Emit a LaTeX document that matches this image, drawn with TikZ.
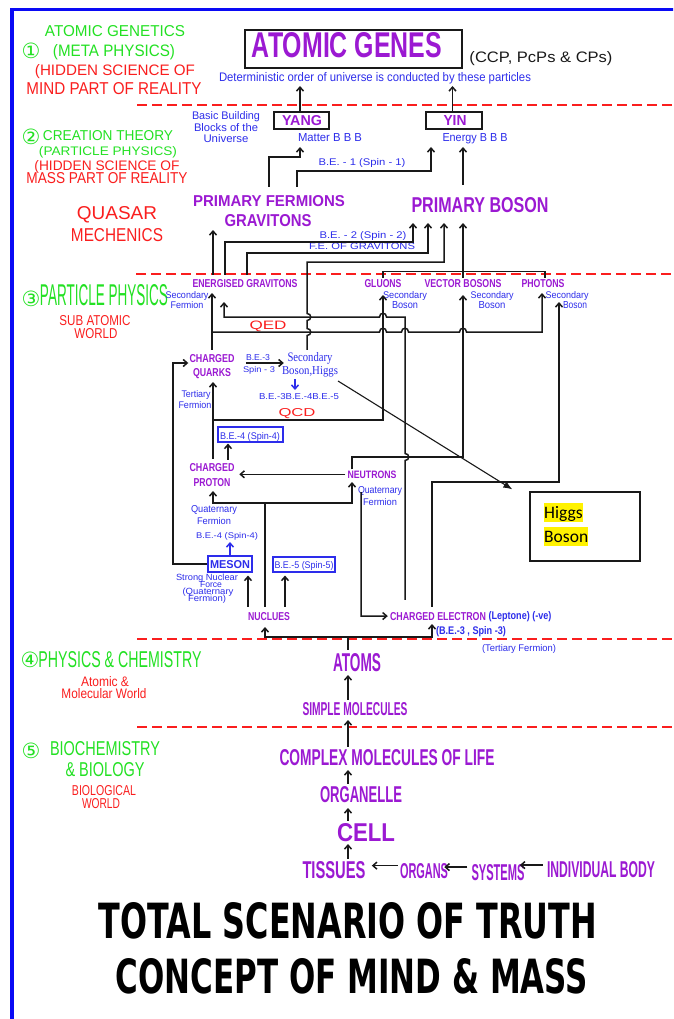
\documentclass[tikz,border=0pt]{standalone}
\usepackage{fontspec}
\setmainfont{Liberation Sans}
\newfontfamily\serifb{Liberation Serif}
\newfontfamily\calib{Carlito}
\newfontfamily\djv{DejaVu Sans}
\usepackage{graphicx}
\usetikzlibrary{arrows.meta}
\newcommand\fit[3]{\resizebox{#1pt}{#2pt}{#3}}
\definecolor{pur}{RGB}{155,25,210}
\definecolor{blu}{RGB}{45,45,235}
\definecolor{grn}{RGB}{35,225,35}
\definecolor{rd}{RGB}{250,30,30}
\definecolor{lnc}{RGB}{25,25,25}
\definecolor{frame}{RGB}{10,10,245}
\begin{document}
\begin{tikzpicture}[x=1pt,y=-1pt,
  txt/.style={inner sep=0pt, anchor=base},
  ptxt/.style={txt, text=pur, font=\bfseries},
  btxt/.style={txt, text=blu},
  gtxt/.style={txt, text=grn},
  rtxt/.style={txt, text=rd},
  circ/.style={text=grn, font=\djv\fontsize{21}{21}\selectfont, inner sep=0pt},
  ln/.style={draw=lnc, line width=1.5pt},
  arr/.style={ln, -{Straight Barb[length=4pt,width=7pt]}},
  barr/.style={draw=blu, line width=1.5pt, -{Straight Barb[length=4pt,width=7pt]}},
  rdash/.style={draw=rd, line width=2pt, dash pattern=on 10pt off 5pt},
  bbox/.style={draw=blu, line width=1.1pt, inner sep=0pt},
  kbox/.style={draw=lnc, line width=1.4pt, inner sep=0pt},
]
\useasboundingbox (0,0) rectangle (673,1019);
\clip (0,0) rectangle (673,1019);
\fill[white] (0,0) rectangle (673,1019);
% frame
\draw[frame, line width=3.5pt] (12,1040) -- (12,9.5) -- (690,9.5);
% red dashed separators
\draw[rdash] (137,105) -- (673,105);
\draw[rdash] (136,274) -- (673,274);
\draw[rdash] (137,639) -- (673,639);
\draw[rdash] (137,727) -- (673,727);

% ---------- left column ----------
\node[gtxt] (l1) at (115,37) {\fit{140}{11}{ATOMIC GENETICS}};
\node[circ] (c1) at (31,51) {①};
\node[gtxt] (l2) at (114,57) {\fit{122}{12}{(META PHYSICS)}};
\node[rtxt] (l3) at (115,76) {\fit{160}{11}{(HIDDEN SCIENCE OF}};
\node[rtxt] (l4) at (114,95) {\fit{175}{12}{MIND PART OF REALITY}};
\node[circ] (c2) at (31,137) {②};
\node[gtxt] (l5) at (108,140.5) {\fit{130}{10}{CREATION THEORY}};
\node[gtxt] (l6) at (108,155.5) {\fit{138}{9}{(PARTICLE PHYSICS)}};
\node[rtxt] (l7) at (107,170) {\fit{145}{10}{(HIDDEN SCIENCE OF}};
\node[rtxt] (l8) at (107,184) {\fit{161}{11}{MASS PART OF REALITY}};
\node[rtxt] (l9) at (117,219) {\fit{80}{13}{QUASAR}};
\node[rtxt] (l10) at (117,241) {\fit{92}{13}{MECHENICS}};
\node[circ] (c3) at (31,299) {③};
\node[gtxt] (l11) at (104,305) {\fit{128}{21}{PARTICLE PHYSICS}};
\node[rtxt] (l12) at (95,325) {\fit{71}{10}{SUB ATOMIC}};
\node[rtxt] (l13) at (96,338) {\fit{43}{10}{WORLD}};
\node[circ] (c4) at (30,660) {④};
\node[gtxt] (l14) at (120,667) {\fit{163}{16}{PHYSICS \& CHEMISTRY}};
\node[rtxt] (l15) at (105,686) {\fit{48}{10}{Atomic \&}};
\node[rtxt] (l16) at (104,698) {\fit{85}{10}{Molecular World}};
\node[circ] (c5) at (31,751) {⑤};
\node[gtxt] (l17) at (105,755) {\fit{110}{14}{BIOCHEMISTRY}};
\node[gtxt] (l18) at (105,776) {\fit{79}{14}{\& BIOLOGY}};
\node[rtxt] (l19) at (104,795) {\fit{64}{10}{BIOLOGICAL}};
\node[rtxt] (l20) at (101,808) {\fit{38}{10}{WORLD}};

% ---------- top ----------
\node[kbox, line width=1.5pt, minimum width=217pt, minimum height=38pt] (agbox) at (353.5,49) {};
\node[ptxt] (ag) at (347,58) {\fit{190}{25}{ATOMIC GENES}};
\node[txt, text=lnc] (ccp) at (541,63) {\fit{143}{11}{(CCP, PcPs \& CPs)}};
\node[btxt] (det) at (375,82) {\fit{312}{9}{Deterministic order of universe is conducted by these particles}};
\node[kbox, minimum width=55pt, minimum height=17pt] (yang) at (301.5,120.5) {};
\node[ptxt] (yangt) at (302,126) {\fit{40}{10}{YANG}};
\node[kbox, minimum width=56pt, minimum height=17pt] (yin) at (454,120.5) {};
\node[ptxt] (yint) at (455,126) {\fit{23}{10}{YIN}};
\node[btxt] (matter) at (330,142) {\fit{64}{8}{Matter B B B}};
\node[btxt] (energy) at (475,142) {\fit{65}{8}{Energy B B B}};
\node[btxt] (bb1) at (226,120) {\fit{68}{8}{Basic Building}};
\node[btxt] (bb2) at (226,132) {\fit{64}{8}{Blocks of the}};
\node[btxt] (bb3) at (226,143) {\fit{45}{8}{Universe}};
\node[btxt] (be1) at (362,166) {\fit{87}{7}{B.E. - 1 (Spin - 1)}};
\node[ptxt] (pf) at (269,207) {\fit{152}{11}{PRIMARY FERMIONS}};
\node[ptxt] (pg) at (268,226) {\fit{87}{12}{GRAVITONS}};
\node[ptxt] (pb) at (480,212) {\fit{137}{15}{PRIMARY BOSON}};
\node[btxt] (be2) at (363,238) {\fit{87}{7}{B.E. - 2 (Spin - 2)}};
\node[btxt] (fe) at (362,249) {\fit{106}{6.5}{F.E. OF GRAVITONS}};

% ---------- particle physics ----------
\node[ptxt] (eg) at (245,287) {\fit{105}{8}{ENERGISED GRAVITONS}};
\node[btxt] (egs1) at (187,298) {\fit{43}{7}{Secondary}};
\node[btxt] (egs2) at (187,308) {\fit{33}{7}{Fermion}};
\node[ptxt] (gl) at (383,287) {\fit{37}{8}{GLUONS}};
\node[btxt] (gls1) at (405,298) {\fit{44}{7}{Secondary}};
\node[btxt] (gls2) at (405,308) {\fit{26}{7}{Boson}};
\node[ptxt] (vb) at (463,287) {\fit{77}{8}{VECTOR BOSONS}};
\node[btxt] (vbs1) at (492,298) {\fit{43}{7}{Secondary}};
\node[btxt] (vbs2) at (492,308) {\fit{27}{7}{Boson}};
\node[ptxt] (ph) at (543,287) {\fit{43}{8}{PHOTONS}};
\node[btxt] (phs1) at (567,298) {\fit{43}{7}{Secondary}};
\node[btxt] (phs2) at (575,308) {\fit{24}{7}{Boson}};
\node[rtxt] (qed) at (268,329) {\fit{37}{8.5}{QED}};
\node[ptxt] (cq1) at (212,362) {\fit{45}{8}{CHARGED}};
\node[ptxt] (cq2) at (212,376) {\fit{38}{8}{QUARKS}};
\node[btxt] (be3) at (258,360) {\fit{24}{6}{B.E.-3}};
\node[btxt] (sp3) at (259,372) {\fit{32}{6}{Spin - 3}};
\node[btxt, font=\serifb] (sbh1) at (310,361) {\fit{45}{9}{Secondary}};
\node[btxt, font=\serifb] (sbh2) at (310,374) {\fit{56}{8}{Boson,Higgs}};
\node[btxt] (bex) at (299,399) {\fit{80}{6}{B.E.-3B.E.-4B.E.-5}};
\node[rtxt] (qcd) at (297,416) {\fit{37}{8}{QCD}};
\node[btxt] (tf1) at (196,397) {\fit{29}{7}{Tertiary}};
\node[btxt] (tf2) at (195,408) {\fit{33}{7}{Fermion}};
\node[bbox, minimum width=65pt, minimum height=15pt] (be4box) at (250.5,434.5) {};
\node[btxt] (be4t) at (250,439) {\fit{60}{7}{B.E.-4 (Spin-4)}};
\node[ptxt] (cp1) at (212,471) {\fit{45}{8}{CHARGED}};
\node[ptxt] (cp2) at (212,486) {\fit{37}{8}{PROTON}};
\node[ptxt] (nt) at (372,478) {\fit{49}{7.5}{NEUTRONS}};
\node[btxt] (nq1) at (380,493) {\fit{44}{7}{Quaternary}};
\node[btxt] (nq2) at (380,505) {\fit{34}{7}{Fermion}};
\node[btxt] (pq1) at (214,512) {\fit{46}{7}{Quaternary}};
\node[btxt] (pq2) at (214,524) {\fit{34}{7}{Fermion}};
\node[btxt] (be4s) at (227,538) {\fit{62}{6}{B.E.-4 (Spin-4)}};
\node[bbox, minimum width=44pt, minimum height=16pt] (meson) at (230,564) {};
\node[btxt, font=\bfseries] (mesont) at (230,568) {\fit{40}{8}{MESON}};
\node[bbox, minimum width=62pt, minimum height=15pt] (be5) at (304,564.5) {};
\node[btxt] (be5t) at (304,568) {\fit{59}{7}{B.E.-5 (Spin-5)}};
\node[btxt] (sn1) at (207,580) {\fit{62}{6.5}{Strong Nuclear}};
\node[btxt] (sn2) at (211,587) {\fit{22}{6}{Force}};
\node[btxt] (sn3) at (208,594) {\fit{51}{6.5}{(Quaternary}};
\node[btxt] (sn4) at (207,601) {\fit{38}{6.5}{Fermion)}};
\node[ptxt] (nu) at (269,620) {\fit{42}{8}{NUCLUES}};
\node[ptxt] (ce) at (438,620) {\fit{96}{8}{CHARGED ELECTRON}};
\node[btxt, font=\bfseries] (lep) at (520,619) {\fit{63}{8}{(Leptone) (-ve)}};
\node[btxt, font=\bfseries] (bes3) at (471,634) {\fit{70}{8}{(B.E.-3 , Spin -3)}};
\node[btxt] (tfe) at (519,651) {\fit{74}{7}{(Tertiary Fermion)}};
% Higgs box
\node[kbox, line width=1.3pt, minimum width=110pt, minimum height=69pt] (higgsbox) at (585,526.5) {};
\node[fill=yellow, inner sep=0pt, text height=15pt, text depth=4pt, anchor=base west, font=\calib\fontsize{17.5}{17.5}\selectfont] (hg1) at (544,518) {Higgs};
\node[fill=yellow, inner sep=0pt, text height=15pt, text depth=4pt, anchor=base west, font=\calib\fontsize{17.5}{17.5}\selectfont] (hg2) at (544,542) {Boson};

% ---------- lower ----------
\node[ptxt] (at) at (357,671) {\fit{48}{18}{ATOMS}};
\node[ptxt] (sm) at (355,715) {\fit{105}{13}{SIMPLE MOLECULES}};
\node[ptxt] (cm) at (387,765) {\fit{215}{16}{COMPLEX MOLECULES OF LIFE}};
\node[ptxt] (or) at (361,802) {\fit{82}{16}{ORGANELLE}};
\node[ptxt] (cell) at (366,841) {\fit{58}{18}{CELL}};
\node[ptxt] (ti) at (334,878) {\fit{63}{17}{TISSUES}};
\node[ptxt] (og) at (424,878) {\fit{48}{15}{ORGANS}};
\node[ptxt] (sy) at (498,880) {\fit{53}{16}{SYSTEMS}};
\node[ptxt] (ib) at (601,877) {\fit{108}{16}{INDIVIDUAL BODY}};
\node[txt, font=\djv\bfseries] (title1) at (348,938) {\fit{498}{36}{TOTAL SCENARIO OF TRUTH}};
\node[txt, font=\djv\bfseries] (title2) at (352,993) {\fit{472}{35}{CONCEPT OF MIND \& MASS}};

% ---------- connectors ----------
\draw[arr] ([xshift=-1.5pt]yang.north) -- ([xshift=-75pt,yshift=-4pt]det.base);
\draw[arr] ([xshift=-1.5pt]yin.north) -- ([xshift=77.5pt,yshift=-4pt]det.base);
\draw[arr] ([yshift=9pt]pf.north) -- (269,157) -- (300,157) -- ([xshift=-30pt,yshift=-5pt]matter.base);
\draw[arr] ([xshift=28pt,yshift=9pt]pf.north) -- (297,171) -- (431,171) -- ([xshift=-44pt,yshift=-5pt]energy.base);
\draw[arr] ([xshift=-17pt,yshift=12pt]pb.north) -- ([xshift=-12pt,yshift=-5pt]energy.base);
\draw[arr] ([xshift=-32pt,yshift=4pt]eg.north) -- ([xshift=-55pt,yshift=-4pt]pg.base);
\draw[arr] ([xshift=-20pt,yshift=4pt]eg.north) -- (225,242) -- (413,242) -- ([xshift=-67pt,yshift=-11pt]pb.base);
\draw[arr] ([xshift=2pt,yshift=4pt]eg.north) -- (247,253) -- (428,253) -- ([xshift=-52pt,yshift=-11pt]pb.base);
\draw[arr] ([xshift=-3pt,yshift=2pt]sbh1.north) -- (307,335.5) .. controls (312,335.5) and (312,328.5) .. (307,328.5)
  -- (307,320.5) .. controls (312,320.5) and (312,313.5) .. (307,313.5) -- (307,262) -- (444,262)
  -- ([xshift=-36pt,yshift=-11pt]pb.base);
% boson bus
\draw[ln] ([yshift=1pt]gl.north) -- (383,271.5) -- (545,271.5) -- ([xshift=2pt,yshift=1pt]ph.north);
\draw[arr] ([yshift=1pt]vb.north) -- ([xshift=-17pt,yshift=-11pt]pb.base);
% quarks to energised gravitons
\draw[arr] ([yshift=4pt]cq1.north) -- ([xshift=-33pt,yshift=-6pt]eg.base);
% QED lower line to photons
\draw[arr] (212,332) -- (379.5,332) .. controls (379.5,327) and (386.5,327) .. (386.5,332)
  -- (401.5,332) .. controls (401.5,327) and (408.5,327) .. (408.5,332)
  -- (459.5,332) .. controls (459.5,327) and (466.5,327) .. (466.5,332)
  -- (542,332) -- ([xshift=-1pt,yshift=-6pt]ph.base);
% electron to energised gravitons (QED upper)
\draw[arr] ([xshift=-33pt,yshift=12pt]ce.north) -- (405,460.5) .. controls (410,460.5) and (410,453.5) .. (405,453.5)
  -- (405,317) -- (386.5,317) .. controls (386.5,312) and (379.5,312) .. (379.5,317)
  -- (224,317) -- ([xshift=-21pt,yshift=-15pt]eg.base);
% proton to quarks, QCD to gluons
\draw[arr] ([xshift=1pt,yshift=4pt]cp1.north) -- ([xshift=1pt,yshift=-6pt]cq2.base);
\draw[arr] (213,420) -- (383,420) -- ([yshift=-8pt]gl.base);
% meson to quarks
\draw[arr] (meson.west) -- (173,564) -- (173,363) -- ([xshift=-1pt,yshift=-1pt]cq1.base west);
\draw[arr] ([yshift=-3pt]be3.base west) -- ++(38,0);
\draw[barr] ([xshift=-15pt,yshift=-5pt]sbh2.base) -- ++(0,11);
\draw[-{Latex[length=9pt,width=7pt]}, draw=lnc, line width=1.1pt] ([xshift=28pt,yshift=-7pt]sbh2.base) -- ([xshift=-17pt,yshift=2pt]higgsbox.north west);
\draw[arr] ([xshift=16pt,yshift=3pt]cp1.north) -- ([xshift=-22.5pt,yshift=-1pt]be4box.south);
\draw[arr] ([xshift=-2pt]nt.west) -- ++(-106,0);
% nuclues bus
\draw[ln] ([xshift=-4pt,yshift=5pt]nu.north) -- (265,503);
\draw[arr] (265,503) -- (213,503) -- ([xshift=1pt,yshift=-5pt]cp2.base);
\draw[arr] (265,503) -- (352,503) -- ([xshift=-20pt,yshift=-4pt]nt.base);
\draw[arr] ([xshift=-11pt,yshift=-14pt]nt.base) -- (361,616) -- ([xshift=-2pt]ce.west);
\draw[arr] ([xshift=-21pt,yshift=5pt]nu.north) -- ([xshift=18pt,yshift=-3pt]meson.south);
\draw[arr] ([xshift=16pt,yshift=5pt]nu.north) -- ([xshift=-19pt,yshift=-3pt]be5.south);
\draw[barr] (meson.north) -- ([xshift=3pt,yshift=-4pt]be4s.base);
% neutrons to vector bosons
\draw[arr] ([xshift=-20pt,yshift=1pt]nt.north) -- (352,457) -- (463,457) -- ([yshift=-8pt]vb.base);
% electron to photons
\draw[arr] ([xshift=-6pt,yshift=5pt]ce.north) -- (432,482) -- (559,482) -- ([xshift=-8pt,yshift=-4pt]phs1.base);
% atoms bus
\draw[ln] ([xshift=-9pt,yshift=3pt]at.north) -- (348,637);
\draw[arr] (348,637) -- (265,637) -- ([xshift=-4pt,yshift=-7pt]nu.base);
\draw[arr] (348,637) -- (432,637) -- ([xshift=-6pt,yshift=-4pt]ce.base);
% lower chain
\draw[arr] ([xshift=-7pt,yshift=2pt]sm.north) -- ([xshift=-9pt,yshift=-4pt]at.base);
\draw[arr] ([xshift=-39pt,yshift=2pt]cm.north) -- ([xshift=-7pt,yshift=-5pt]sm.base);
\draw[arr] ([xshift=-13pt,yshift=2pt]or.north) -- ([xshift=-39pt,yshift=-5pt]cm.base);
\draw[arr] ([xshift=-18pt,yshift=2pt]cell.north) -- ([xshift=-13pt,yshift=-6pt]or.base);
\draw[arr] ([xshift=14pt,yshift=2pt]ti.north) -- ([xshift=-18pt,yshift=-3pt]cell.base);
\draw[arr] ([xshift=-2pt,yshift=5pt]og.west) -- ++(-26,0);
\draw[arr] ([xshift=-4pt,yshift=5pt]sy.west) -- ++(-23,0);
\draw[arr] ([xshift=-4pt,yshift=4pt]ib.west) -- ++(-23,0);
\end{tikzpicture}
\end{document}
